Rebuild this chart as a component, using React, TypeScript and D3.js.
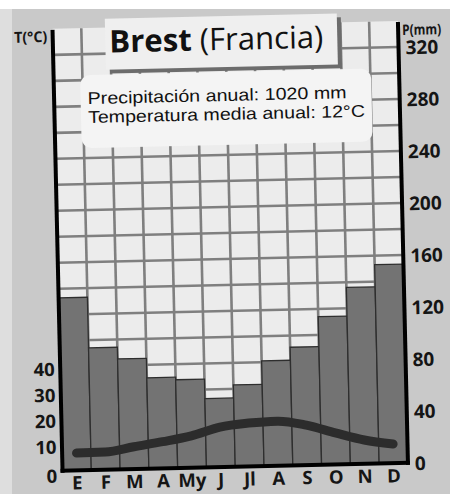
import React from "react";
import * as d3 from "d3";

const months = ["E", "F", "M", "A", "My", "J", "Jl", "A", "S", "O", "N", "D"];
const precip = [133, 94, 85, 70, 68, 53, 63, 81, 91, 114, 136, 153];
const temp = [6.7, 6.8, 8.6, 10.3, 12.3, 15.4, 16.7, 17.2, 15.4, 12.2, 9.2, 7.4];
const precipTicks = [0, 40, 80, 120, 160, 200, 240, 280, 320];
const tempTicks = [0, 10, 20, 30, 40];
const title = "Brest";
const subtitle = " (Francia)";
const infoLines = ["Precipitación anual: 1020 mm", "Temperatura media anual: 12°C"];

export default function App() {
  const W = 450, H = 494;
  const left = 57.5, right = 403, base = 467, top = 25;
  const idx = d3.range(months.length);
  const x = d3.scaleBand<number>().domain(idx).range([left, right]).padding(0);
  const bw = x.bandwidth();
  const yP = d3.scaleLinear().domain([0, 340]).range([base, top]);
  const yT = d3.scaleLinear().domain([0, 170]).range([base, top]);
  const gridP = d3.range(20, 340, 20);
  const line = d3
    .line<number>()
    .x((_, i) => (x(i) as number) + bw / 2)
    .y((t) => yT(t))
    .curve(d3.curveMonotoneX);
  const lab = { fontFamily: "'Open Sans', sans-serif", fontWeight: 700 as const, fill: "#151515" };

  return (
    <svg width={W} height={H} style={{ position: "absolute", left: 0, top: 0 }}>
      <rect x={0} y={0} width={W} height={H} fill="#ffffff" />
      <rect x={0} y={9} width={W} height={H - 9} fill="#c9c9c9" />
      <rect x={0} y={9} width={12} height={H - 9} fill="#dedede" />
      <g transform="rotate(-1.3, 225, 247)">
        {/* plot background */}
        <rect x={left} y={top} width={right - left} height={base - top} fill="#ececec" />
        {gridP.map((p) => (
          <line key={"h" + p} x1={left} x2={right} y1={yP(p)} y2={yP(p)} stroke="#7f7f7f" strokeWidth={2.6} />
        ))}
        {idx.slice(1).map((i) => (
          <line key={"v" + i} x1={x(i)} x2={x(i)} y1={top} y2={base} stroke="#7f7f7f" strokeWidth={2.6} />
        ))}
        {/* bars */}
        {precip.map((p, i) => (
          <rect
            key={"b" + i}
            x={x(i)}
            y={yP(p)}
            width={bw}
            height={base - yP(p)}
            fill="#737373"
            stroke="#2e2e2e"
            strokeWidth={1.3}
          />
        ))}
        {/* temperature */}
        <path d={line(temp) || ""} fill="none" stroke="#2c2c2c" strokeWidth={9} strokeLinecap="round" strokeLinejoin="round" />
        {/* axes frame */}
        <line x1={left} x2={left} y1={top + 1} y2={base + 2} stroke="#000" strokeWidth={4} />
        <line x1={right} x2={right} y1={top + 1} y2={base + 2} stroke="#000" strokeWidth={4} />
        <line x1={left - 2} x2={right + 2} y1={base} y2={base} stroke="#000" strokeWidth={4} />
        {/* tick labels */}
        {tempTicks.map((t) => (
          <text key={"tl" + t} x={52} y={yT(t) + (t === 0 ? 12 : 9)} textAnchor="end" fontSize={18.5} {...lab}>
            {t}
          </text>
        ))}
        {precipTicks.map((p) => (
          <text key={"pl" + p} x={410} y={yP(p) + 7.5} textAnchor="start" fontSize={19} {...lab}>
            {p}
          </text>
        ))}
        {months.map((m, i) => (
          <text key={"m" + i} x={(x(i) as number) + bw / 2} y={486} textAnchor="middle" fontSize={18.5} {...lab}>
            {m}
          </text>
        ))}
        <text x={19} y={38} fontSize={15} textLength={33} lengthAdjust="spacingAndGlyphs" {...lab}>
          T(°C)
        </text>
        <text x={407} y={39} fontSize={14.5} textLength={39} lengthAdjust="spacingAndGlyphs" {...lab}>
          P(mm)
        </text>
        {/* title box */}
        <rect x={114} y={20} width={232} height={51} fill="#6c6c6c" />
        <rect x={110} y={16} width={232} height={51} fill="#efefef" />
        <text
          x={114}
          y={50}
          fontSize={31}
          textLength={214}
          lengthAdjust="spacingAndGlyphs"
          fontFamily="'Open Sans', sans-serif"
          fill="#111"
        >
          <tspan fontWeight={700}>{title}</tspan>
          <tspan fontWeight={500}>{subtitle}</tspan>
        </text>
        {/* info box */}
        <rect x={84} y={72} width={291} height={73} rx={10} fill="#f4f4f4" />
        {infoLines.map((t, i) => (
          <text
            key={"info" + i}
            x={91}
            y={101 + i * 19}
            fontSize={17}
            textLength={i === 0 ? 259 : 277}
            lengthAdjust="spacingAndGlyphs"
            fontFamily="'Liberation Sans', Arial, sans-serif"
            fill="#111"
          >
            {t}
          </text>
        ))}
      </g>
    </svg>
  );
}
